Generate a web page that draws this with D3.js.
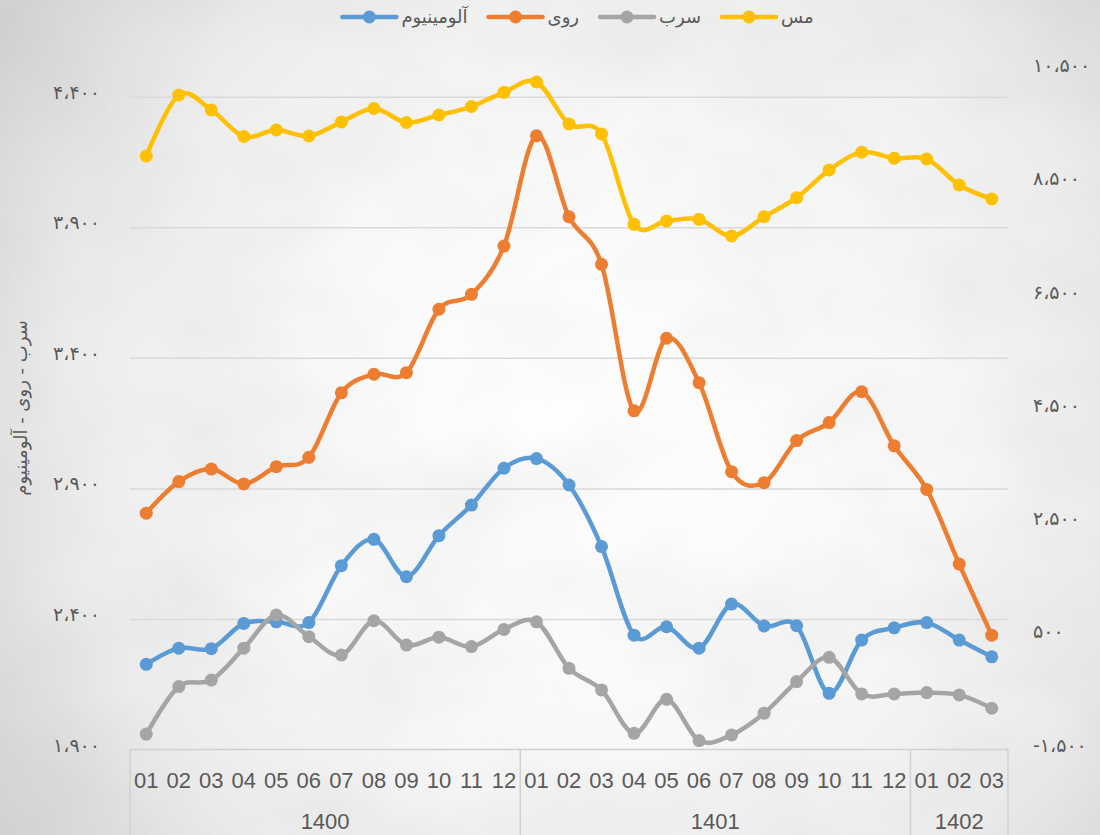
<!DOCTYPE html>
<html>
<head>
<meta charset="utf-8">
<script src="https://cdn.jsdelivr.net/npm/d3@7"></script>
<style>
  body { margin: 0; background: #ffffff; }
  svg { display: block; }
</style>
</head>
<body>
<div id="chart"></div>
<script>
//Data
var months = ["01","02","03","04","05","06","07","08","09","10","11","12",
  "01","02","03","04","05","06","07","08","09","10","11","12",
  "01","02","03"];
var yearLabels = ["1400", "1401", "1402"];
var yearCounts = [12, 12, 3];

var seriesNames = ["آلومینیوم", "روی", "سرب", "مس"];
var seriesColors = ["#5B9BD5", "#ED7D31", "#A5A5A5", "#FFC000"];

// left axis series
var aluminium = [2226, 2288, 2286, 2383, 2389, 2386, 2604, 2705, 2562, 2719, 2836, 2977,
  3014, 2913, 2677, 2338, 2370, 2288, 2457, 2373, 2374, 2115, 2319, 2366, 2386, 2319, 2255];
var zinc = [2805, 2926, 2974, 2917, 2983, 3019, 3266, 3337, 3343, 3586, 3643, 3828,
  4250, 3940, 3758, 3197, 3475, 3305, 2964, 2922, 3083, 3152, 3270, 3063, 2896, 2610, 2338];
var lead = [1959, 2141, 2166, 2288, 2415, 2332, 2262, 2393, 2300, 2330, 2294, 2360,
  2389, 2211, 2128, 1962, 2092, 1934, 1956, 2039, 2160, 2253, 2113, 2113, 2118, 2109, 2058];
// right axis series
var copper = [8981, 10058, 9794, 9326, 9440, 9334, 9582, 9820, 9573, 9705, 9855, 10106,
  10288, 9546, 9370, 7775, 7833, 7863, 7568, 7909, 8245, 8734, 9047, 8941, 8928, 8469, 8222];

var leftTicks = [1900, 2400, 2900, 3400, 3900, 4400];
var rightTicks = [-1500, 500, 2500, 4500, 6500, 8500, 10500];
var leftTitle = "سرب - روی - آلومینیوم";

//Layout
var outerWidth = 1100, outerHeight = 835;
var plot = { left: 130, right: 1008, top: 70, bottom: 749.5 };
var textcolor = "#595959";
var gridcolor = "#d9d9d9";
var persianFont = "'DejaVu Sans', sans-serif";
var latinFont = "'Liberation Sans', Arial, sans-serif";
var persianSize = "19px";

//Persian digits
function toPersian(v) {
  var s = d3.format(",")(v).replace(/\u2212/g, "-").replace(/,/g, "\u060C");
  return s.replace(/[0-9]/g, function(c) { return String.fromCharCode(0x06F0 + (+c)); });
}

var svg = d3.select("#chart").append("svg")
  .attr("width", outerWidth)
  .attr("height", outerHeight);

var defs = svg.append("defs");
var bg = defs.append("radialGradient")
  .attr("id", "bg")
  .attr("gradientUnits", "userSpaceOnUse")
  .attr("cx", 600).attr("cy", 430).attr("r", 720);
bg.append("stop").attr("offset", "0").attr("stop-color", "#ffffff");
bg.append("stop").attr("offset", "0.45").attr("stop-color", "#f8f8f8");
bg.append("stop").attr("offset", "0.75").attr("stop-color", "#ebebeb");
bg.append("stop").attr("offset", "1").attr("stop-color", "#d2d2d2");

var clouds = defs.append("filter").attr("id", "clouds")
  .attr("x", 0).attr("y", 0).attr("width", 1).attr("height", 1);
clouds.append("feTurbulence")
  .attr("type", "fractalNoise")
  .attr("baseFrequency", "0.006 0.009")
  .attr("numOctaves", 3)
  .attr("seed", 7);
clouds.append("feColorMatrix")
  .attr("type", "matrix")
  .attr("values", "0 0 0 0 0.55  0 0 0 0 0.55  0 0 0 0 0.55  0 0 0 -1.6 1.05");

svg.append("rect")
  .attr("width", outerWidth).attr("height", outerHeight)
  .attr("fill", "url(#bg)");
svg.append("rect")
  .attr("width", outerWidth).attr("height", outerHeight)
  .attr("filter", "url(#clouds)")
  .attr("opacity", 0.2);

//Scales
var x = d3.scaleBand()
  .domain(d3.range(months.length))
  .range([plot.left, plot.right]);
var cx = function(i) { return x(i) + x.bandwidth() / 2; };

var yLeft = d3.scaleLinear()
  .domain([1900, 4400])
  .range([plot.bottom, 96.7]);
var yRight = d3.scaleLinear()
  .domain([-1500, 10500])
  .range([plot.bottom, plot.top]);

//Gridlines
svg.append("g")
  .attr("transform", "translate(" + plot.left + ",0)")
  .call(d3.axisLeft(yLeft).tickValues(leftTicks.slice(1))
    .tickSize(-(plot.right - plot.left)).tickFormat(""))
  .call(function(g) {
    g.select(".domain").remove();
    g.selectAll("line").attr("stroke", gridcolor).attr("stroke-width", 1.5);
  });

//Left axis
svg.append("g")
  .attr("transform", "translate(" + plot.left + ",0)")
  .call(d3.axisLeft(yLeft).tickValues(leftTicks).tickSize(0).tickPadding(30)
    .tickFormat(toPersian))
  .call(function(g) {
    g.select(".domain").remove();
    g.selectAll("text")
      .attr("dy", "0.08em")
      .attr("fill", textcolor)
      .style("font-family", persianFont)
      .style("font-size", persianSize);
  });

//Right axis
svg.append("g")
  .attr("transform", "translate(" + plot.right + ",0)")
  .call(d3.axisRight(yRight).tickValues(rightTicks).tickSize(0).tickPadding(25)
    .tickFormat(toPersian))
  .call(function(g) {
    g.select(".domain").remove();
    g.selectAll("text")
      .attr("dy", "0.08em")
      .attr("fill", textcolor)
      .style("font-family", persianFont)
      .style("font-size", persianSize);
  });

//Left axis title
svg.append("text")
  .attr("transform", "translate(27,408) rotate(-90)")
  .attr("text-anchor", "middle")
  .attr("fill", textcolor)
  .style("font-family", persianFont)
  .style("font-size", "18px")
  .text(leftTitle);

//Category axis
svg.append("g")
  .attr("transform", "translate(0," + plot.bottom + ")")
  .call(d3.axisBottom(x).tickSize(0).tickPadding(23)
    .tickFormat(function(i) { return months[i]; }))
  .call(function(g) {
    g.select(".domain").remove();
    g.selectAll("text")
      .attr("fill", textcolor)
      .style("font-family", latinFont)
      .style("font-size", "22px");
  });

var axisline = svg.append("g")
  .attr("stroke", "#d0d0d0")
  .attr("stroke-width", 1.5);
axisline.append("line")
  .attr("x1", plot.left).attr("x2", plot.right)
  .attr("y1", plot.bottom).attr("y2", plot.bottom);

var start = 0;
var bounds = [0];
yearCounts.forEach(function(c) { start += c; bounds.push(start); });
bounds.forEach(function(b) {
  var bx = b < months.length ? x(b) : plot.right;
  axisline.append("line")
    .attr("x1", bx).attr("x2", bx)
    .attr("y1", plot.bottom).attr("y2", outerHeight);
});

svg.append("g").selectAll("text")
  .data(yearLabels)
  .enter().append("text")
  .attr("x", function(d, i) {
    var a = x(bounds[i]);
    var b = bounds[i + 1] < months.length ? x(bounds[i + 1]) : plot.right;
    return (a + b) / 2;
  })
  .attr("y", 829)
  .attr("text-anchor", "middle")
  .attr("fill", textcolor)
  .style("font-family", latinFont)
  .style("font-size", "22px")
  .text(function(d) { return d; });

//Series
var series = [
  { name: seriesNames[0], color: seriesColors[0], values: aluminium, y: yLeft },
  { name: seriesNames[1], color: seriesColors[1], values: zinc, y: yLeft },
  { name: seriesNames[2], color: seriesColors[2], values: lead, y: yLeft },
  { name: seriesNames[3], color: seriesColors[3], values: copper, y: yRight }
];

series.forEach(function(s) {
  var line = d3.line()
    .x(function(d, i) { return cx(i); })
    .y(function(d) { return s.y(d); })
    .curve(d3.curveCardinal.tension(0));

  var g = svg.append("g");
  g.append("path")
    .datum(s.values)
    .attr("d", line)
    .attr("fill", "none")
    .attr("stroke", s.color)
    .attr("stroke-width", 4.5)
    .attr("stroke-linejoin", "round")
    .attr("stroke-linecap", "round");

  g.selectAll("circle")
    .data(s.values)
    .enter().append("circle")
    .attr("cx", function(d, i) { return cx(i); })
    .attr("cy", function(d) { return s.y(d); })
    .attr("r", 6.5)
    .attr("fill", s.color);
});

//Legend
var legend = svg.append("g").attr("transform", "translate(0,17)");
var items = [];
series.forEach(function(s) {
  var item = legend.append("g");
  item.append("line")
    .attr("x1", 0).attr("x2", 54)
    .attr("stroke", s.color)
    .attr("stroke-width", 4.5)
    .attr("stroke-linecap", "round");
  item.append("circle")
    .attr("cx", 27).attr("r", 6.5)
    .attr("fill", s.color);
  var t = item.append("text")
    .attr("x", 59)
    .attr("dy", "0.35em")
    .attr("fill", textcolor)
    .style("font-family", persianFont)
    .style("font-size", "18px")
    .text(s.name);
  var w = 59 + t.node().getComputedTextLength();
  items.push({ g: item, w: w });
});
var total = d3.sum(items, function(d) { return d.w; }) + 21 * (items.length - 1);
var cursor = 578 - total / 2;
items.forEach(function(d) {
  d.g.attr("transform", "translate(" + cursor + ",0)");
  cursor += d.w + 21;
});
</script>
</body>
</html>
